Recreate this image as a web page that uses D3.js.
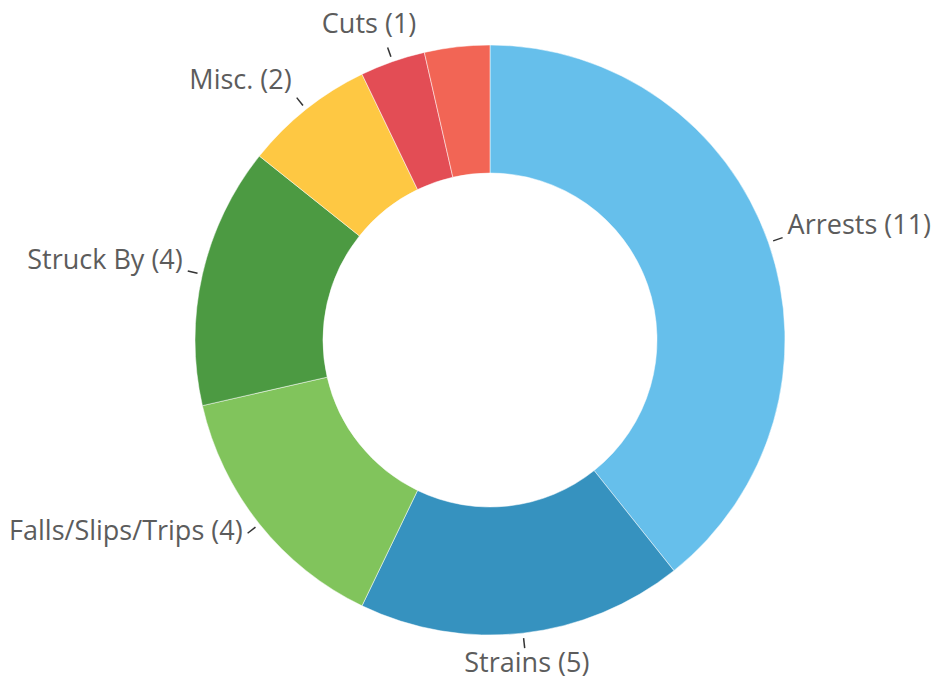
<!DOCTYPE html>
<html>
<head>
<meta charset="utf-8">
<script src="https://cdn.jsdelivr.net/npm/d3@7"></script>
<style>
  body { margin: 0; background: #fff; }
  svg { display: block; }
</style>
</head>
<body>
<div id="chart"></div>
<script>
// slice data, clockwise from 12 o'clock
var categories = ["Arrests", "Strains", "Falls/Slips/Trips", "Struck By", "Misc.", "Cuts", "Other"]
var counts = [11, 5, 4, 4, 2, 1, 1]
var colors = ["#66bfeb", "#3692bf", "#81c45c", "#4c9a42", "#fec843", "#e34d55", "#f26555"]
// the last small slice has no label in the original
var hiddenLabels = ["Other"]

var width = 947, height = 683
var cx = 490, cy = 340,
    outerR = 295, innerR = 167

var svg = d3.select("#chart")
  .append("svg")
    .attr("width", width)
    .attr("height", height)
  .append("g")
    .attr("transform", "translate(" + cx + "," + cy + ")")

var data = categories.map((c, i) => { return {name: c, value: counts[i], color: colors[i]} })

var pie = d3.pie()
  .sort(null)
  .value(d => d.value)

var arc = d3.arc()
  .innerRadius(innerR)
  .outerRadius(outerR)

var arcs = pie(data)

svg.selectAll("path.slice")
  .data(arcs)
  .enter().append("path")
    .attr("class", "slice")
    .attr("d", arc)
    .attr("fill", d => d.data.color)
    .attr("stroke", "#fff")
    .attr("stroke-width", 0.5)

var labelled = arcs.filter(d => hiddenLabels.indexOf(d.data.name) < 0)

// unit vector from centre toward slice middle
function dir(d) {
  var a = (d.startAngle + d.endAngle) / 2
  return [Math.sin(a), -Math.cos(a)]
}

// short radial connector
svg.selectAll("line.tick")
  .data(labelled)
  .enter().append("line")
    .attr("class", "tick")
    .attr("x1", d => dir(d)[0] * (outerR + 5))
    .attr("y1", d => dir(d)[1] * (outerR + 5))
    .attr("x2", d => dir(d)[0] * (outerR + 15))
    .attr("y2", d => dir(d)[1] * (outerR + 15))
    .attr("stroke", "#333")
    .attr("stroke-width", 1.5)

var labels = svg.selectAll("text.label")
  .data(labelled)
  .enter().append("text")
    .attr("class", "label")
    .style("font-family", "'Open Sans', sans-serif")
    .style("font-size", "27px")
    .style("fill", "#5c5c5c")
    .text(d => d.data.name + " (" + d.data.value + ")")

labels.each(function(d) {
  var u = dir(d)
  var px = u[0] * (outerR + 15), py = u[1] * (outerR + 15)
  var t = d3.select(this)
  if (Math.abs(u[0]) >= 0.5) {
    // side labels
    t.attr("text-anchor", u[0] > 0 ? "start" : "end")
      .attr("x", px + (u[0] > 0 ? 5 : -5))
      .attr("y", py + 10.7 * u[1])
  } else {
    // labels near top / bottom
    t.attr("text-anchor", "middle")
      .attr("x", px + u[0] * Math.abs(u[0]) * 170)
      .attr("y", py + 4 + 20 * u[1])
  }
})
</script>
</body>
</html>
